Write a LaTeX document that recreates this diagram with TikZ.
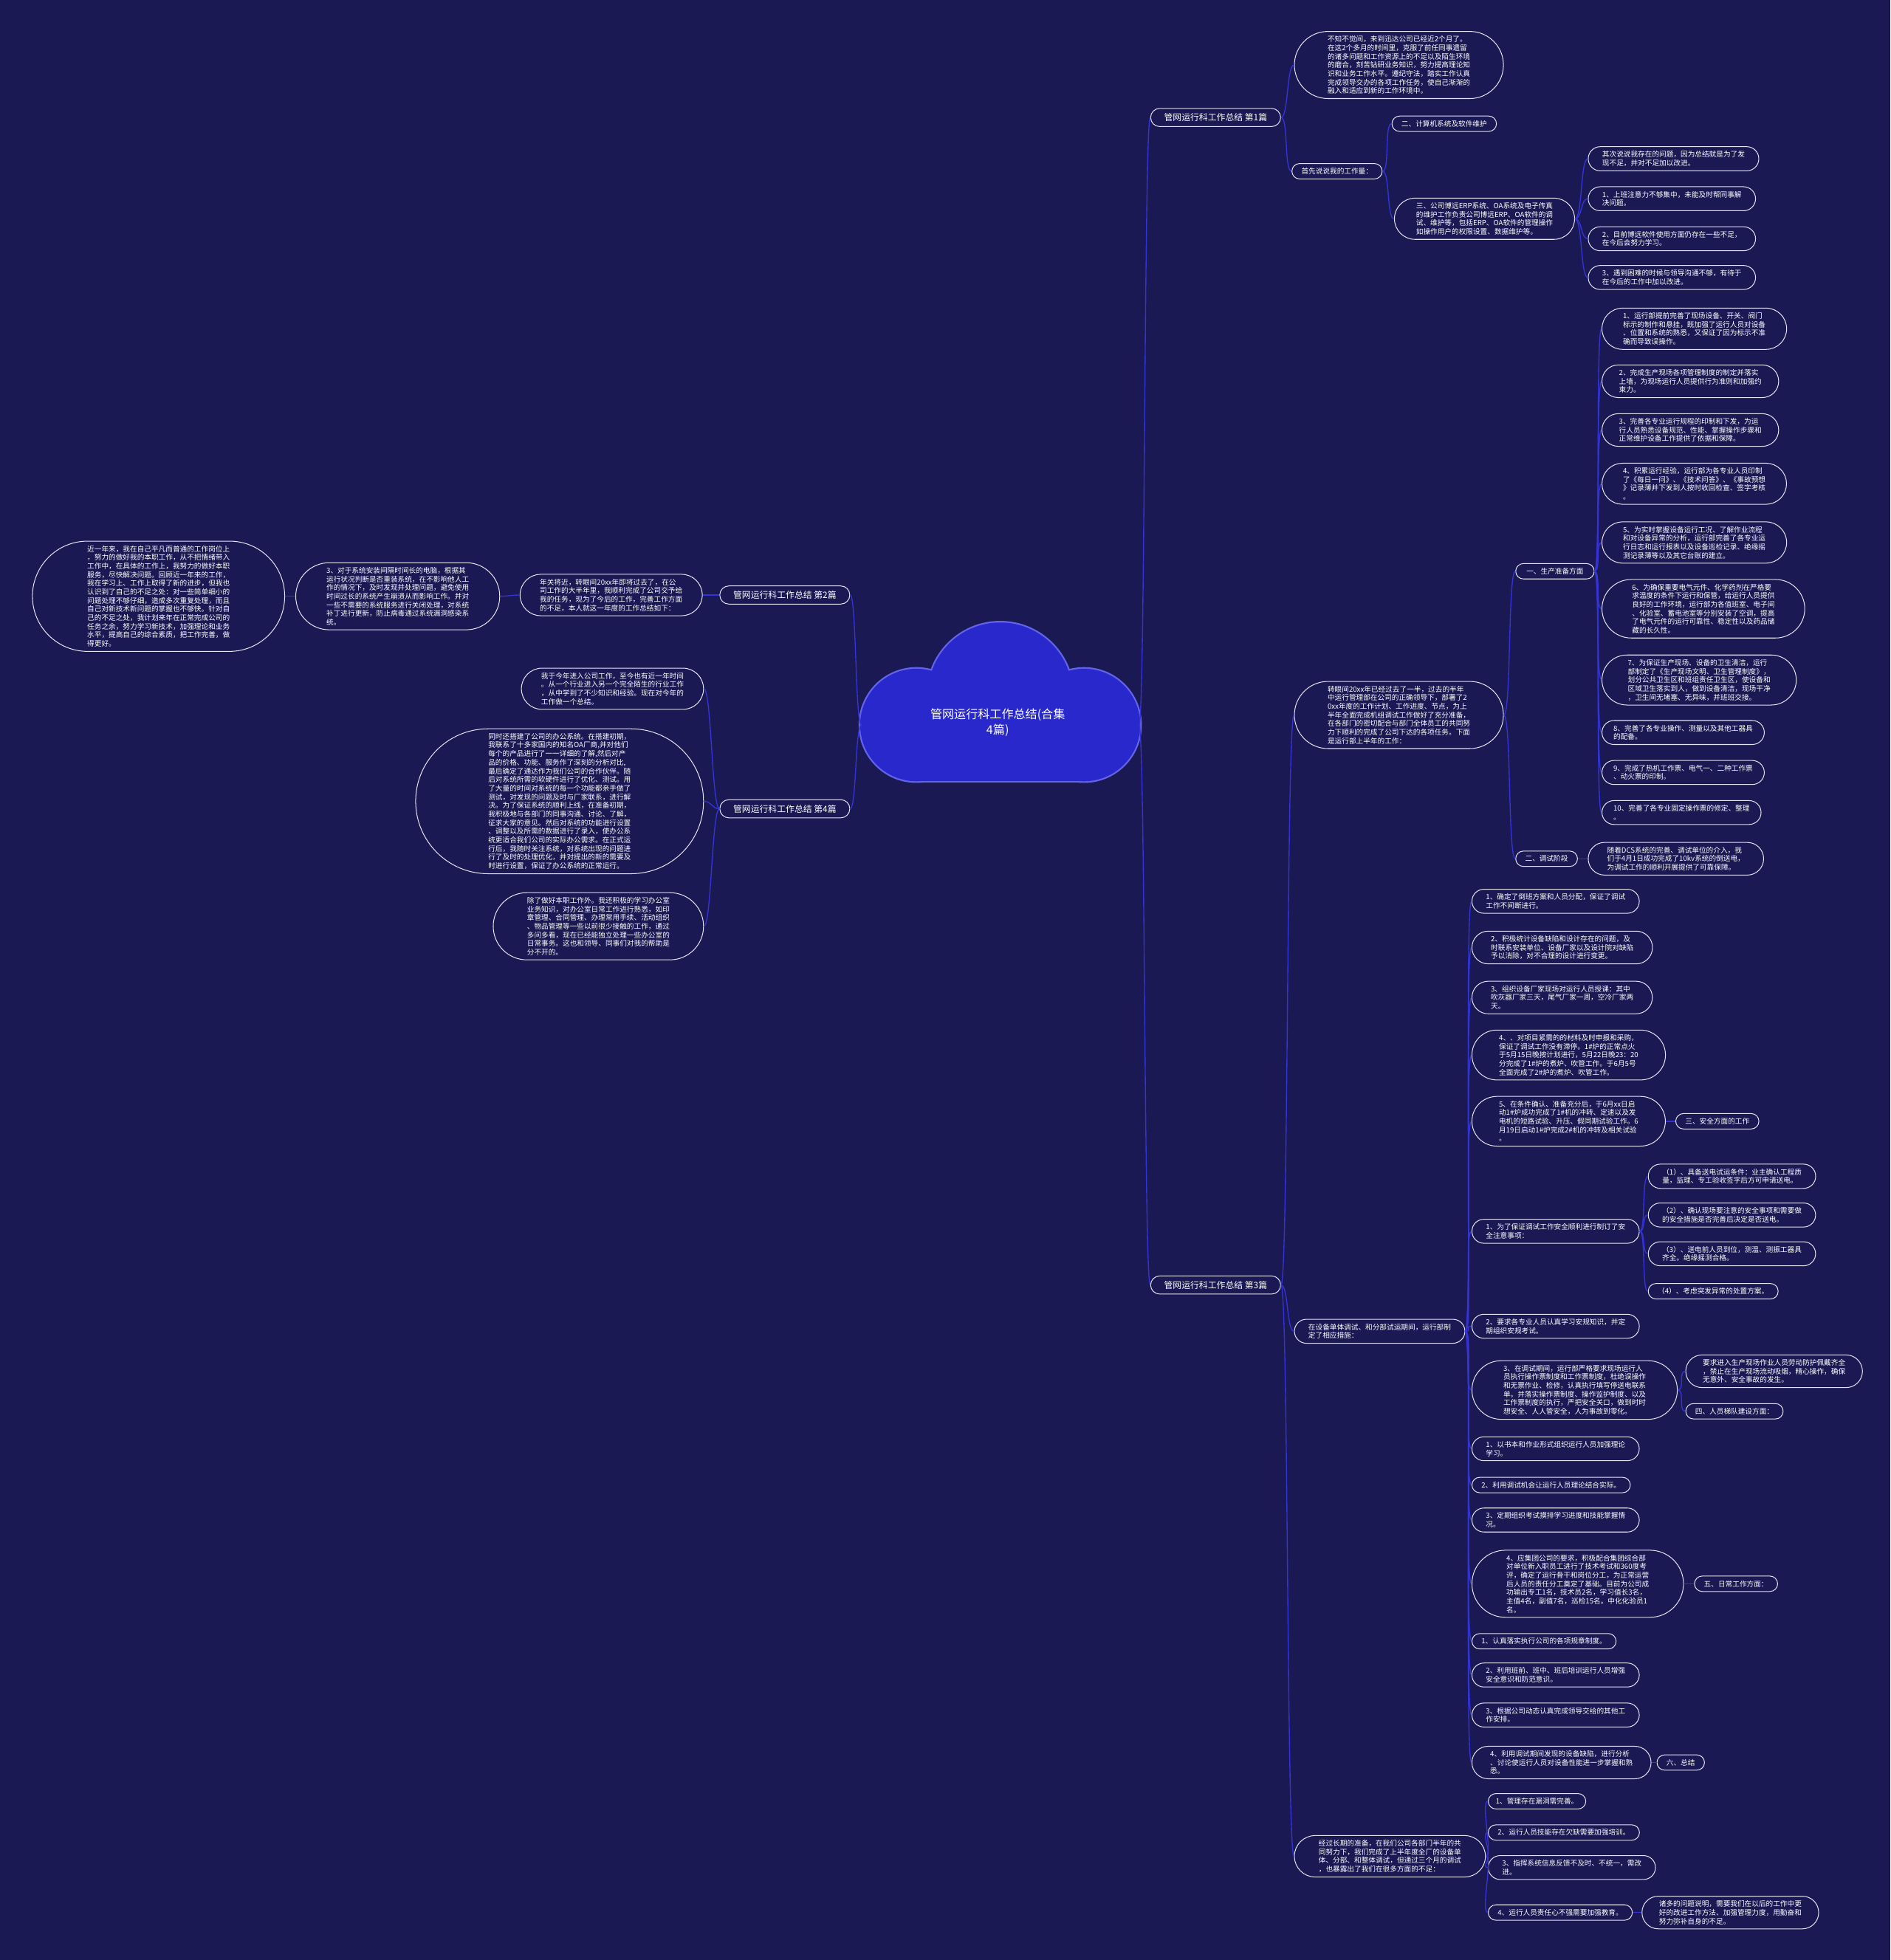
\documentclass[tikz,border=0pt]{standalone}
\usepackage{fontspec}
\newfontfamily\cjk{Noto Sans CJK SC}
\usepackage{xcolor}
\usepackage{tikz}
\usetikzlibrary{shapes.misc}

\definecolor{bgc}{RGB}{26,25,84}
\definecolor{wire}{RGB}{52,52,214}
\definecolor{rim}{RGB}{228,228,240}
\definecolor{cloudf}{RGB}{40,40,205}
\definecolor{cloudr}{RGB}{100,100,235}

\begin{document}
\begin{tikzpicture}[
  x=1pt, y=-1pt,
  leaf/.style={rounded rectangle, draw=rim, line width=0.6pt, fill=bgc,
               text=white, align=left, inner xsep=#1, inner ysep=3.5pt,
               font=\cjk\fontsize{5.7}{6.9}\selectfont},
  leaf/.default=9pt,
  branch/.style={leaf=10pt, inner ysep=4pt, font=\cjk\fontsize{7}{8.4}\selectfont},
  link/.style={draw=wire, line width=0.8pt}
]

\fill[bgc] (0,0) rectangle (1512,1568);
\useasboundingbox (0,0) rectangle (1512,1568);

%─── Root cloud ───────────────────────────────────────────────────────────
\foreach \c/\d in {cloudr/1.3, cloudf/0} {
  \fill[\c] (800,556) circle[radius=58+\d];
  \fill[\c] (733,580) circle[radius=45+\d];
  \fill[\c] (867,580) circle[radius=45+\d];
  \fill[\c] (733,565) rectangle (867,625+\d);
}
\node[text=white, align=center, font=\cjk\fontsize{9.5}{12.5}\selectfont]
  (root) at (798,578) {管网运行科工作总结(合集\\4篇)};
\coordinate (rootE) at (911,580);
\coordinate (rootW) at (689,580);

%─── Part 1 ───────────────────────────────────────────────────────────────
\node[branch, anchor=west] (b1) at (920,94) {管网运行科工作总结 第1篇};
\node[leaf=13pt, anchor=west] (intro1) at (1035,52)
  {不知不觉间，来到迅达公司已经近2个月了。\\在这2个多月的时间里，克服了前任同事遗留\\的诸多问题和工作资源上的不足以及陌生环境\\的磨合，刻苦钻研业务知识，努力提高理论知\\识和业务工作水平。遵纪守法，踏实工作认真\\完成领导交办的各项工作任务，使自己渐渐的\\融入和适应到新的工作环境中。};
\node[leaf=7pt, anchor=west] (work1) at (1033,137) {首先说说我的工作量：};
\node[leaf=7pt, anchor=west] (soft1) at (1113,99) {二、计算机系统及软件维护};
\node[leaf=11pt, anchor=west] (erp1) at (1115,175)
  {三、公司博远ERP系统、OA系统及电子传真\\的维护工作负责公司博远ERP、OA软件的调\\试、维护等，包括ERP、OA软件的管理操作\\如操作用户的权限设置、数据维护等。};
\node[leaf, anchor=west] (prob1) at (1270,127) {其次说说我存在的问题，因为总结就是为了发\\现不足，并对不足加以改进。};
\node[leaf, anchor=west] (prob2) at (1270,159) {1、上班注意力不够集中，未能及时帮同事解\\决问题。};
\node[leaf, anchor=west] (prob3) at (1270,191) {2、目前博远软件使用方面仍存在一些不足，\\在今后会努力学习。};
\node[leaf, anchor=west] (prob4) at (1270,222) {3、遇到困难的时候与领导沟通不够，有待于\\在今后的工作中加以改进。};

%─── Part 3 ───────────────────────────────────────────────────────────────
\node[branch, anchor=west] (b3) at (920,1028) {管网运行科工作总结 第3篇};
\node[leaf=13pt, anchor=west] (half3) at (1035,572)
  {转眼间20xx年已经过去了一半，过去的半年\\中运行管理部在公司的正确领导下，部署了2\\0xx年度的工作计划、工作进度、节点，为上\\半年全面完成机组调试工作做好了充分准备，\\在各部门的密切配合与部门全体员工的共同努\\力下顺利的完成了公司下达的各项任务。下面\\是运行部上半年的工作：};
\node[leaf=8pt, anchor=west] (prep3) at (1212,457) {一、生产准备方面};
\node[leaf=7pt, anchor=west] (debug3) at (1212,687) {二、调试阶段};

% production readiness items
\node[leaf=10.5pt, anchor=west] (pr1) at (1281,263) {1、运行部提前完善了现场设备、开关、阀门\\标示的制作和悬挂，既加强了运行人员对设备\\、位置和系统的熟悉，又保证了因为标示不准\\确而导致误操作。};
\node[leaf=9.5pt, anchor=west] (pr2) at (1281,305) {2、完成生产现场各项管理制度的制定并落实\\上墙，为现场运行人员提供行为准则和加强约\\束力。};
\node[leaf=9.5pt, anchor=west] (pr3) at (1281,344) {3、完善各专业运行规程的印制和下发，为运\\行人员熟悉设备规范、性能、掌握操作步骤和\\正常维护设备工作提供了依据和保障。};
\node[leaf=10.5pt, anchor=west] (pr4) at (1281,387) {4、积累运行经验，运行部为各专业人员印制\\了《每日一问》、《技术问答》、《事故预想\\》记录薄并下发到人按时收回检查、签字考核\\。};
\node[leaf=10.5pt, anchor=west] (pr5) at (1281,434) {5、为实时掌握设备运行工况、了解作业流程\\和对设备异常的分析，运行部完善了各专业运\\行日志和运行报表以及设备巡检记录、绝缘摇\\测记录薄等以及其它台账的建立。};
\node[leaf=13pt, anchor=west] (pr6) at (1281,487) {6、为确保重要电气元件、化学药剂在严格要\\求温度的条件下运行和保管，给运行人员提供\\良好的工作环境，运行部为各值班室、电子间\\、化验室、蓄电池室等分别安装了空调，提高\\了电气元件的运行可靠性、稳定性以及药品储\\藏的长久性。};
\node[leaf=12pt, anchor=west] (pr7) at (1281,544) {7、为保证生产现场、设备的卫生清洁，运行\\部制定了《生产现场文明、卫生管理制度》，\\划分公共卫生区和班组责任卫生区，使设备和\\区域卫生落实到人，做到设备清洁，现场干净\\，卫生间无堵塞、无异味，并班班交接。};
\node[leaf=7pt, anchor=west] (pr8) at (1281,586) {8、完善了各专业操作、测量以及其他工器具\\的配备。};
\node[leaf=7pt, anchor=west] (pr9) at (1281,618) {9、完成了热机工作票、电气一、二种工作票\\、动火票的印制。};
\node[leaf=7pt, anchor=west] (pr10) at (1281,650) {10、完善了各专业固定操作票的修定、整理\\。};
\node[leaf=11pt, anchor=west] (dcs3) at (1270,687) {随着DCS系统的完善、调试单位的介入，我\\们于4月1日成功完成了10kv系统的倒送电，\\为调试工作的顺利开展提供了可靠保障。};

% measures during commissioning
\node[leaf, anchor=west] (meas3) at (1035,1065) {在设备单体调试、和分部试运期间，运行部制\\定了相应措施：};
\node[leaf, anchor=west] (m1) at (1177,721) {1、确定了倒班方案和人员分配，保证了调试\\工作不间断进行。};
\node[leaf=11pt, anchor=west] (m2) at (1177,758) {2、积极统计设备缺陷和设计存在的问题，及\\时联系安装单位、设备厂家以及设计院对缺陷\\予以消除，对不合理的设计进行变更。};
\node[leaf=11pt, anchor=west] (m3) at (1177,798) {3、组织设备厂家现场对运行人员授课：其中\\吹灰器厂家三天，尾气厂家一周，空冷厂家两\\天。};
\node[leaf=13pt, anchor=west] (m4) at (1177,844) {4、、对项目紧需的的材料及时申报和采购，\\保证了调试工作没有滞停。1\#炉的正常点火\\于5月15日晚按计划进行，5月22日晚23：20\\分完成了1\#炉的煮炉、吹管工作。于6月5号\\全面完成了2\#炉的煮炉、吹管工作。};
\node[leaf=13pt, anchor=west] (m5) at (1177,897) {5、在条件确认、准备充分后，于6月xx日启\\动1\#炉成功完成了1\#机的冲转、定速以及发\\电机的短路试验、升压、假同期试验工作。6\\月19日启动1\#炉完成2\#机的冲转及相关试验\\。};
\node[leaf=7pt, anchor=west] (safe3) at (1340,897) {三、安全方面的工作};
\node[leaf, anchor=west] (m6) at (1177,985) {1、为了保证调试工作安全顺利进行制订了安\\全注意事项：};
\node[leaf, anchor=west] (sf1) at (1318,941) {（1）、具备送电试运条件：业主确认工程质\\量，监理、专工验收签字后方可申请送电。};
\node[leaf, anchor=west] (sf2) at (1318,972) {（2）、确认现场要注意的安全事项和需要做\\的安全措施是否完善后决定是否送电。};
\node[leaf, anchor=west] (sf3) at (1318,1003) {（3）、送电前人员到位，测温、测振工器具\\齐全。绝缘摇测合格。};
\node[leaf=7pt, anchor=west] (sf4) at (1318,1033) {（4）、考虑突发异常的处置方案。};
\node[leaf, anchor=west] (m7) at (1177,1061) {2、要求各专业人员认真学习安规知识，并定\\期组织安规考试。};
\node[leaf=14pt, anchor=west] (m8) at (1177,1112) {3、在调试期间，运行部严格要求现场运行人\\员执行操作票制度和工作票制度，杜绝误操作\\和无票作业、检修，认真执行填写停送电联系\\单。并落实操作票制度、操作监护制度、以及\\工作票制度的执行，严把安全关口，做到时时\\想安全、人人管安全，人为事故到零化。};
\node[leaf=9.5pt, anchor=west] (ppe3) at (1348,1097) {要求进入生产现场作业人员劳动防护佩戴齐全\\，禁止在生产现场流动吸烟，精心操作，确保\\无意外、安全事故的发生。};
\node[leaf=7pt, anchor=west] (team3) at (1348,1129) {四、人员梯队建设方面：};
\node[leaf, anchor=west] (m9) at (1177,1159) {1、以书本和作业形式组织运行人员加强理论\\学习。};
\node[leaf=7pt, anchor=west] (m10) at (1177,1188) {2、利用调试机会让运行人员理论结合实际。};
\node[leaf, anchor=west] (m11) at (1177,1216) {3、定期组织考试摸排学习进度和技能掌握情\\况。};
\node[leaf=14pt, anchor=west] (m12) at (1177,1267) {4、应集团公司的要求，积极配合集团综合部\\对单位新入职员工进行了技术考试和360度考\\评，确定了运行骨干和岗位分工，为正常运营\\后人员的责任分工奠定了基础。目前为公司成\\功输出专工1名，技术员2名，学习值长3名，\\主值4名，副值7名，巡检15名。中化化验员1\\名。};
\node[leaf=7pt, anchor=west] (daily3) at (1355,1267) {五、日常工作方面：};
\node[leaf=7pt, anchor=west] (m13) at (1177,1313) {1、认真落实执行公司的各项规章制度。};
\node[leaf, anchor=west] (m14) at (1177,1340) {2、利用班前、班中、班后培训运行人员增强\\安全意识和防范意识。};
\node[leaf, anchor=west] (m15) at (1177,1372) {3、根据公司动态认真完成领导交给的其他工\\作安排。};
\node[leaf=10.5pt, anchor=west] (m16) at (1177,1410) {4、利用调试期间发现的设备缺陷，进行分析\\、讨论使运行人员对设备性能进一步掌握和熟\\悉。};
\node[leaf=7pt, anchor=west] (sum3) at (1325,1410) {六、总结};

% shortcomings
\node[leaf=13pt, anchor=west] (long3) at (1035,1485) {经过长期的准备，在我们公司各部门半年的共\\同努力下，我们完成了上半年度全厂的设备单\\体、分部、和整体调试，但通过三个月的调试\\，也暴露出了我们在很多方面的不足：};
\node[leaf=5.5pt, anchor=west] (lk1) at (1190,1441) {1、管理存在漏洞需完善。};
\node[leaf=7pt, anchor=west] (lk2) at (1190,1466) {2、运行人员技能存在欠缺需要加强培训。};
\node[leaf, anchor=west] (lk3) at (1190,1494) {3、指挥系统信息反馈不及时、不统一，需改\\进。};
\node[leaf=7pt, anchor=west] (lk4) at (1190,1530) {4、运行人员责任心不强需要加强教育。};
\node[leaf=9.5pt, anchor=west] (fix3) at (1313,1530) {诸多的问题说明，需要我们在以后的工作中更\\好的改进工作方法、加强管理力度，用勤奋和\\努力弥补自身的不足。};

%─── Part 2 ───────────────────────────────────────────────────────────────
\node[branch, anchor=east] (b2) at (680,476) {管网运行科工作总结 第2篇};
\node[leaf=9.5pt, anchor=east] (year2) at (562,476) {年关将近，转眼间20xx年即将过去了，在公\\司工作的大半年里，我顺利完成了公司交予给\\我的任务，现为了今后的工作，完善工作方面\\的不足，本人就这一年度的工作总结如下：};
\node[leaf=11pt, anchor=east] (os2) at (400,477) {3、对于系统安装间隔时间长的电脑，根据其\\运行状况判断是否重装系统，在不影响他人工\\作的情况下，及时发现并处理问题，避免使用\\时间过长的系统产生崩溃从而影响工作。并对\\一些不需要的系统服务进行关闭处理，对系统\\补丁进行更新，防止病毒通过系统漏洞感染系\\统。};
\node[leaf=17pt, anchor=east] (recent2) at (228,477) {近一年来，我在自己平凡而普通的工作岗位上\\，努力的做好我的本职工作，从不把情绪带入\\工作中，在具体的工作上，我努力的做好本职\\服务，尽快解决问题。回顾近一年来的工作，\\我在学习上、工作上取得了新的进步，但我也\\认识到了自己的不足之处：对一些简单细小的\\问题处理不够仔细，造成多次重复处理，而且\\自己对新技术新问题的掌握也不够快。针对自\\己的不足之处，我计划来年在正常完成公司的\\任务之余，努力学习新技术，加强理论和业务\\水平，提高自己的综合素质，把工作完善，做\\得更好。};

%─── Part 4 ───────────────────────────────────────────────────────────────
\node[branch, anchor=east] (b4) at (680,647) {管网运行科工作总结 第4篇};
\node[leaf=9.5pt, anchor=east] (join4) at (563,551) {我于今年进入公司工作，至今也有近一年时间\\。从一个行业进入另一个完全陌生的行业工作\\，从中学到了不少知识和经验。现在对今年的\\工作做一个总结。};
\node[leaf=20pt, anchor=east] (oa4) at (563,641) {同时还搭建了公司的办公系统。在搭建初期，\\我联系了十多家国内的知名OA厂商,并对他们\\每个的产品进行了一一详细的了解,然后对产\\品的价格、功能、服务作了深刻的分析对比,\\最后确定了通达作为我们公司的合作伙伴。随\\后对系统所需的软硬件进行了优化、测试。用\\了大量的时间对系统的每一个功能都亲手做了\\测试，对发现的问题及时与厂家联系，进行解\\决。为了保证系统的顺利上线，在准备初期，\\我积极地与各部门的同事沟通、讨论、了解，\\征求大家的意见。然后对系统的功能进行设置\\、调整以及所需的数据进行了录入，使办公系\\统更适合我们公司的实际办公需求。在正式运\\行后，我随时关注系统，对系统出现的问题进\\行了及时的处理优化，并对提出的新的需要及\\时进行设置，保证了办公系统的正常运行。};
\node[leaf=13.5pt, anchor=east] (office4) at (563,741) {除了做好本职工作外。我还积极的学习办公室\\业务知识，对办公室日常工作进行熟悉，如印\\章管理、合同管理、办理常用手续、活动组织\\、物品管理等一些以前很少接触的工作，通过\\多问多看，现在已经能独立处理一些办公室的\\日常事务。这也和领导、同事们对我的帮助是\\分不开的。};

%─── Connectors ───────────────────────────────────────────────────────────
\foreach \b in {b1,b3}
  \draw[link] (rootE) .. controls +(5,0) and +(-5,0) .. (\b.west);
\foreach \b in {b2,b4}
  \draw[link] (rootW) .. controls +(-5,0) and +(5,0) .. (\b.east);

\foreach \a/\b in {b1/intro1, b1/work1, work1/soft1, work1/erp1,
                   erp1/prob1, erp1/prob2, erp1/prob3, erp1/prob4,
                   b3/half3, b3/meas3, b3/long3, half3/prep3, half3/debug3,
                   debug3/dcs3, m5/safe3, m8/ppe3, m8/team3, m12/daily3,
                   m16/sum3, lk4/fix3}
  \draw[link] (\a.east) .. controls +(6,0) and +(-6,0) .. (\b.west);
\foreach \i in {1,...,10}
  \draw[link] (prep3.east) .. controls +(5,0) and +(-5,0) .. (pr\i.west);
\foreach \i in {1,...,16}
  \draw[link] (meas3.east) .. controls +(6,0) and +(-6,0) .. (m\i.west);
\foreach \i in {1,...,4} {
  \draw[link] (m6.east) .. controls +(5,0) and +(-5,0) .. (sf\i.west);
  \draw[link] (long3.east) .. controls +(6,0) and +(-6,0) .. (lk\i.west);
}
\foreach \a/\b in {b2/year2, year2/os2, os2/recent2,
                   b4/join4, b4/oa4, b4/office4}
  \draw[link] (\a.west) .. controls +(-6,0) and +(6,0) .. (\b.east);

\end{tikzpicture}
\end{document}
